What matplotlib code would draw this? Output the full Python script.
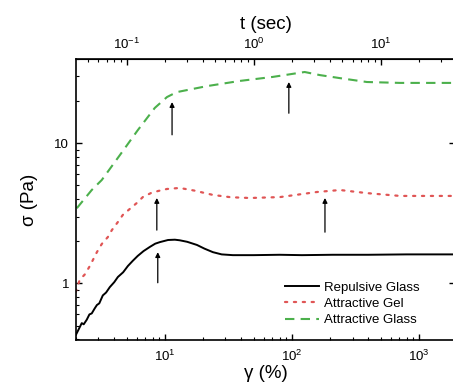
import matplotlib
matplotlib.use('Agg')
import matplotlib.pyplot as plt
from matplotlib.ticker import LogLocator, FuncFormatter, NullFormatter, FixedLocator

plt.rcParams['font.family'] = ['Liberation Sans', 'DejaVu Sans']
plt.rcParams['mathtext.fontset'] = 'custom'
plt.rcParams['mathtext.rm'] = 'Liberation Sans'
plt.rcParams['mathtext.it'] = 'Liberation Sans:italic'

# strain (%) and stress (Pa)
gamma_rg = [2.0, 2.1, 2.22, 2.3, 2.43, 2.55, 2.66, 2.8, 2.92, 3.05, 3.25, 3.45, 3.69,
            4.0, 4.27, 4.7, 5.12, 5.6, 6.12, 6.8, 7.62, 8.4, 9.14, 10.6, 12.0, 13.1,
            15.0, 17.9, 20.5, 23.9, 28.0, 34.3, 50, 80, 120, 209, 400, 800, 1300, 1920]
sigma_rg = [0.43, 0.47, 0.52, 0.51, 0.55, 0.60, 0.61, 0.66, 0.70, 0.72, 0.82, 0.86, 0.94,
            1.02, 1.11, 1.20, 1.33, 1.45, 1.57, 1.70, 1.82, 1.92, 1.97, 2.04, 2.05, 2.03,
            1.98, 1.88, 1.77, 1.67, 1.61, 1.59, 1.59, 1.60, 1.59, 1.60, 1.60, 1.61, 1.61, 1.61]

gamma_ag = [1.99, 2.14, 2.35, 2.57, 2.92, 3.19, 3.56, 3.83, 4.27, 4.67, 5.30, 6.02, 6.71,
            7.76, 8.81, 10.4, 13.1, 17.0, 23.9, 33.0, 46.7, 80.5, 157, 239, 389, 708, 1920]
sigma_ag = [0.87, 1.06, 1.16, 1.33, 1.67, 1.91, 2.14, 2.40, 2.74, 3.08, 3.40, 3.75, 4.13,
            4.41, 4.56, 4.72, 4.80, 4.60, 4.28, 4.12, 4.07, 4.13, 4.49, 4.64, 4.41, 4.21, 4.21]

gamma_gl = [2.03, 2.66, 3.19, 4.43, 6.12, 8.34, 10.4, 12.4, 21.4, 39, 70.8, 126, 166,
            239, 389, 708, 1920]
sigma_gl = [3.44, 4.64, 5.47, 8.24, 12.4, 17.9, 21.4, 23.2, 25.6, 27.9, 29.8, 32.3, 30.7,
            29.2, 27.4, 27.0, 27.0]

# arrows: x, head, tail
arrow_x = [11.4, 94.6, 8.65, 182, 8.8]
arrow_head = [19.7, 27.4, 4.07, 4.07, 1.67]
arrow_tail = [11.5, 16.4, 2.40, 2.32, 1.01]

# top axis: time = strain * 0.02
t_major = [0.1, 1, 10]
t_minor = [0.05, 0.06, 0.07, 0.08, 0.09] + [0.1 * k for k in range(2, 10)] \
    + [1.0 * k for k in range(2, 10)] + [20, 30]

fig = plt.figure(figsize=(4.53, 3.90), dpi=100)
ax = fig.add_axes([76 / 453, 50 / 390, 379 / 453, 281 / 390])

ax.plot(gamma_rg, sigma_rg, color='black', lw=1.4, label='Repulsive Glass')
ax.plot(gamma_ag, sigma_ag, color='#e05555', lw=1.6, ls=(0, (1, 3)),
        dash_capstyle='round', label='Attractive Gel')
ax.plot(gamma_gl, sigma_gl, color='#4cb04c', lw=1.5, ls=(0, (4.5, 3)),
        label='Attractive Glass')

for x, h, t in zip(arrow_x, arrow_head, arrow_tail):
    ax.annotate('', xy=(x, h), xytext=(x, t),
                arrowprops=dict(arrowstyle='-|>', color='black', lw=0.9,
                                mutation_scale=7, shrinkA=0, shrinkB=0))

ax.set_xscale('log')
ax.set_yscale('log')
ax.set_xlim(2.0, 1920)
ax.set_ylim(0.394, 40)

ax.xaxis.set_major_locator(FixedLocator([10, 100, 1000]))
ax.yaxis.set_major_locator(FixedLocator([1, 10]))
ax.yaxis.set_major_formatter(FuncFormatter(lambda v, p: '%g' % v))
ax.yaxis.set_minor_formatter(NullFormatter())
ax.xaxis.set_minor_locator(LogLocator(base=10, subs=range(2, 10)))
ax.xaxis.set_minor_formatter(NullFormatter())
ax.tick_params(which='both', direction='in', labelsize=9.5)
ax.tick_params(which='major', length=4, width=1)
ax.tick_params(which='minor', length=2.5, width=0.8)
ax.tick_params(axis='x', pad=6)
ax.tick_params(axis='y', right=True, pad=5)
for s in ax.spines.values():
    s.set_linewidth(1.2)

ax.set_xlabel('γ (%)', fontsize=13.5, labelpad=1)
ax.set_ylabel('σ (Pa)', fontsize=13.5, labelpad=12)

top = ax.secondary_xaxis('top', functions=(lambda g: g * 0.02, lambda t: t / 0.02))
top.xaxis.set_major_locator(FixedLocator(t_major))
top.xaxis.set_minor_locator(FixedLocator(t_minor))
top.xaxis.set_minor_formatter(NullFormatter())
top.tick_params(which='both', direction='in', labelsize=9.5, pad=5)
top.tick_params(which='major', length=4, width=1)
top.tick_params(which='minor', length=2.5, width=0.8)
top.set_xlabel('t (sec)', fontsize=13.5, labelpad=6)

ax.legend(loc='upper left', bbox_to_anchor=(278 / 453, 1 - 275 / 390),
          bbox_transform=fig.transFigure, frameon=False, fontsize=9.5,
          handlelength=2.6, handletextpad=0.35, labelspacing=0.3, borderpad=0)

fig.savefig('out.png', dpi=100)
